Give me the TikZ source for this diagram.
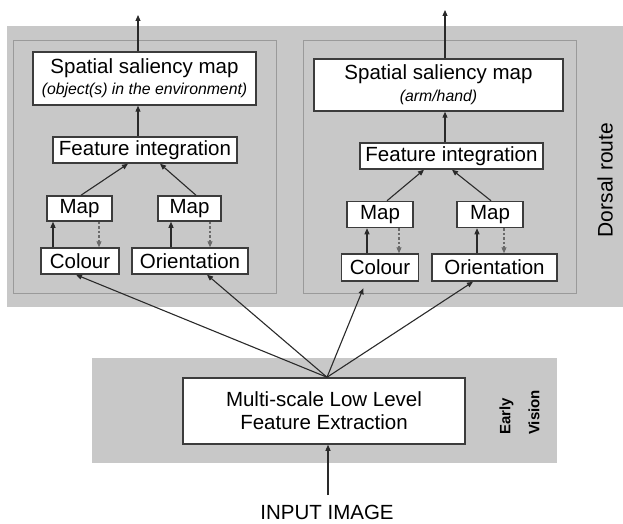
\documentclass[tikz,border=0pt]{standalone}
\usepackage{fontspec}
\setmainfont{Liberation Sans}
\usetikzlibrary{arrows.meta,calc}
\definecolor{bandgray}{HTML}{C8C8C8}
\definecolor{panelline}{HTML}{9A9A9A}
\definecolor{boxline}{HTML}{3C3C3C}
\definecolor{arrowline}{HTML}{2A2A2A}
\definecolor{fbline}{HTML}{6A6A6A}
\begin{document}
\begin{tikzpicture}[x=1pt,y=-1pt,
  box/.style={draw=boxline, line width=1.5pt, fill=white, inner sep=0pt,
    font=\fontsize{20.5}{24}\selectfont, align=center},
  arr/.style={draw=arrowline, line width=1.1pt, -{Triangle[length=6pt,width=5pt]}},
  fb/.style={draw=fbline, line width=1.1pt, dash pattern=on 2.5pt off 2pt,
    -{Triangle[length=6pt,width=5pt]}},
  panel/.style={draw=panelline, line width=0.8pt},
  lbl/.style={inner sep=0pt, font=\fontsize{20.5}{24}\selectfont}]
\useasboundingbox (0,0) rectangle (623,524);

% grey bands and the two inner panels
\fill[bandgray] (7,26) rectangle (623,307);
\draw[panel] (13,40) rectangle (276,293);
\draw[panel] (303,40) rectangle (576,293);
\fill[bandgray] (92,358) rectangle (557,463);

% left panel
\node[box, minimum width=223, minimum height=53] (salL) at (144.5,78.5)
  {Spatial saliency map\\[-3pt]{\fontsize{15.8}{18}\selectfont\itshape (object(s) in the environment)}};
\node[box, minimum width=184, minimum height=26] (FIL) at (145,150) {Feature integration};
\node[box, minimum width=65, minimum height=25] (M1L) at (79.5,208.5) {Map};
\node[box, minimum width=63, minimum height=25] (M2L) at (189.5,208.5) {Map};
\node[box, minimum width=78, minimum height=26] (ColL) at (80,261) {Colour};
\node[box, minimum width=116, minimum height=26] (OriL) at (190,261) {Orientation};

% right panel
\node[box, minimum width=249, minimum height=52] (salR) at (438.5,85)
  {Spatial saliency map\\[-2pt]{\fontsize{15.8}{18}\selectfont\itshape (arm/hand)}};
\node[box, minimum width=183, minimum height=26] (FIR) at (451.5,156) {Feature integration};
\node[box, minimum width=66, minimum height=26] (M1R) at (380,214.5) {Map};
\node[box, minimum width=66, minimum height=26] (M2R) at (490,214.5) {Map};
\node[box, minimum width=77, minimum height=27] (ColR) at (380,267.5) {Colour};
\node[box, minimum width=125, minimum height=27] (OriR) at (494.5,267.5) {Orientation};

% early vision
\node[box, minimum width=282, minimum height=66] (MS) at (324,411)
  {Multi-scale Low Level\\[-1pt]Feature Extraction};
\node[lbl] (inp) at (327,512.5) {INPUT IMAGE};

% band labels
\node[lbl, rotate=90, font=\fontsize{21}{24}\selectfont] (dorsal) at (605,180) {Dorsal route};
\node[inner sep=0pt, rotate=90, anchor=west, align=left,
  font=\fontsize{15}{29}\selectfont\bfseries] (early) at (519.5,435) {Early\\Vision};

% outputs
\coordinate (outL) at (138,15);
\coordinate (outR) at (445,10);
\draw[arr] (salL.north -| outL) -- (outL);
\draw[arr] (salR.north -| outR) -- (outR);
\draw[arr] (FIL.north -| outL) -- (salL.south -| outL);
\draw[arr] (FIR.north -| outR) -- (salR.south -| outR);

% maps into feature integration
\draw[arr] ([xshift=1.5]M1L.north) -- ([xshift=-17]FIL.south);
\draw[arr] ([xshift=6.5]M2L.north) -- ([xshift=15]FIL.south);
\draw[arr] ([xshift=7]M1R.north) -- ([xshift=-27.5]FIR.south);
\draw[arr] ([xshift=1]M2R.north) -- ([xshift=0.5]FIR.south);

% feature channels and their maps
\draw[arr] ([xshift=-27]ColL.north) -- ([xshift=-27]ColL.north |- M1L.south);
\draw[fb] ([xshift=19]ColL.north |- M1L.south) -- ([xshift=19]ColL.north);
\draw[arr] ([xshift=-19]OriL.north) -- ([xshift=-19]OriL.north |- M2L.south);
\draw[fb] ([xshift=20]OriL.north |- M2L.south) -- ([xshift=20]OriL.north);
\draw[arr] ([xshift=-13]ColR.north) -- ([xshift=-13]ColR.north |- M1R.south);
\draw[fb] ([xshift=19]ColR.north |- M1R.south) -- ([xshift=19]ColR.north);
\draw[arr] ([xshift=-17.5]OriR.north) -- ([xshift=-17.5]OriR.north |- M2R.south);
\draw[fb] ([xshift=9.5]OriR.north |- M2R.south) -- ([xshift=9.5]OriR.north);

% low level features fan out to the channels
\coordinate (fan) at ([xshift=3]MS.north);
\draw[arr] (fan) -- ([xshift=-4]ColL.south);
\draw[arr] (fan) -- ([xshift=17]OriL.south);
\draw[arr, shorten >=7pt] (fan) -- ([xshift=-14]ColR.south);
\draw[arr] (fan) -- ([xshift=-21.5]OriR.south);

% input
\draw[arr, shorten <=10pt] ([xshift=1]inp.north) -- ([xshift=1]inp.north |- MS.south);
\end{tikzpicture}
\end{document}
